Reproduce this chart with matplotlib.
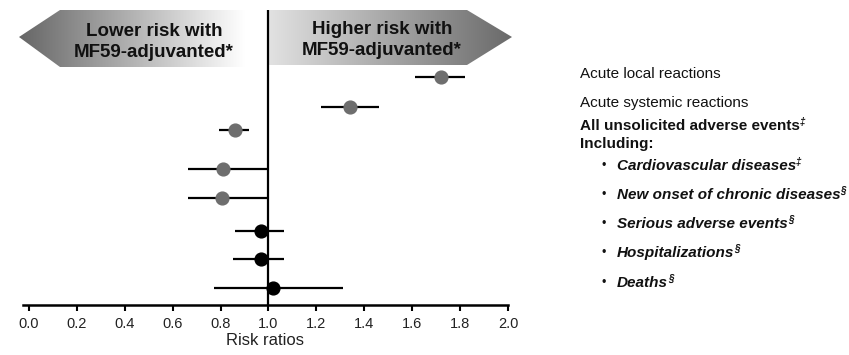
import numpy as np
import matplotlib.pyplot as plt
from matplotlib.patches import Polygon
from matplotlib.colors import LinearSegmentedColormap
import matplotlib.transforms as mtransforms

plt.rcParams['font.family'] = ['Liberation Sans', 'DejaVu Sans']

# risk ratios with 95% CI, top to bottom
rr = [1.72, 1.34, 0.86, 0.81, 0.805, 0.967, 0.967, 1.02]
ci_low = [1.61, 1.22, 0.795, 0.665, 0.665, 0.86, 0.853, 0.774]
ci_high = [1.82, 1.46, 0.918, 1.0, 1.0, 1.065, 1.065, 1.312]
point_colors = ['#6e6e6e'] * 5 + ['black'] * 3

# row layout (uneven spacing as in the original)
row_pos = [0, 1.0, 1.77, 3.07, 4.01, 5.1, 6.05, 7.01]

labels = [
    ('Acute local reactions', 'normal', 'normal', False, ''),
    ('Acute systemic reactions', 'normal', 'normal', False, ''),
    ('All unsolicited adverse events', 'bold', 'normal', False, '\u2021'),
    ('Including:', 'bold', 'normal', False, ''),
    ('Cardiovascular diseases', 'bold', 'italic', True, '\u2021'),
    ('New onset of chronic diseases', 'bold', 'italic', True, '\u00a7'),
    ('Serious adverse events', 'bold', 'italic', True, '\u00a7'),
    ('Hospitalizations', 'bold', 'italic', True, '\u00a7'),
    ('Deaths', 'bold', 'italic', True, '\u00a7'),
]
label_pos = [-0.09, 0.87, 1.63, 2.23, 2.96, 3.92, 4.88, 5.84, 6.83]

xticks = [0.0, 0.2, 0.4, 0.6, 0.8, 1.0, 1.2, 1.4, 1.6, 1.8, 2.0]

W, H = 849, 355
fig = plt.figure(figsize=(W / 100, H / 100), dpi=100)

# background layer in pixel coordinates for the arrows
bg = fig.add_axes([0, 0, 1, 1], zorder=0)
bg.axis('off')

grad = np.linspace(0, 1, 256).reshape(1, -1)

left_arrow = Polygon([(19, 37), (60, 10), (250, 10), (250, 67), (60, 67)],
                     closed=True, facecolor='none', edgecolor='none')
bg.add_patch(left_arrow)
cmap_l = LinearSegmentedColormap.from_list('l', ['#666666', '#ffffff'])
im = bg.imshow(grad, cmap=cmap_l, extent=(19, 245, 67, 10), aspect='auto')
im.set_clip_path(left_arrow)

right_arrow = Polygon([(268, 10), (467, 10), (512, 37), (467, 65), (268, 65)],
                      closed=True, facecolor='none', edgecolor='none')
bg.add_patch(right_arrow)
cmap_r = LinearSegmentedColormap.from_list('r', ['#e2e2e2', '#6a6a6a'])
im2 = bg.imshow(grad, cmap=cmap_r, extent=(268, 512, 65, 10), aspect='auto')
im2.set_clip_path(right_arrow)
bg.set_xlim(0, W)
bg.set_ylim(H, 0)

bg.text(154, 42, 'Lower risk with\nMF59-adjuvanted*', ha='center', va='center',
        fontsize=13.5, fontweight='bold', color='#111111', linespacing=1.25)
bg.text(382, 40, 'Higher risk with\nMF59-adjuvanted*', ha='center', va='center',
        fontsize=13.5, fontweight='bold', color='#111111', linespacing=1.25)

# main forest plot
ax = fig.add_axes([23 / W, 1 - 305 / H, 485 / W, 295 / H], zorder=1)
ax.patch.set_visible(False)
ax.set_xlim(-0.025, 2.0)
ax.set_ylim(7.56, -2.21)

for i in range(len(rr)):
    ax.plot([ci_low[i], ci_high[i]], [row_pos[i], row_pos[i]], color='black',
            lw=1.6, solid_capstyle='butt', zorder=2)
    ax.plot(rr[i], row_pos[i], 'o', ms=9.2, color=point_colors[i],
            mec=point_colors[i], zorder=3)

ax.axvline(1.0, color='black', lw=1.6, zorder=1)

for s in ['left', 'top', 'right']:
    ax.spines[s].set_visible(False)
ax.spines['bottom'].set_linewidth(1.8)
ax.set_yticks([])
ax.set_xticks(xticks)
ax.set_xticklabels([f'{t:.1f}' for t in xticks], fontsize=10.5, color='#222222')
ax.tick_params(axis='x', direction='out', length=4.5, width=1.5, pad=4.5)
ax.set_xlabel('Risk ratios', fontsize=12, labelpad=1, color='#222222')

trans = mtransforms.blended_transform_factory(fig.transFigure, ax.transData)
for (txt, weight, style, bullet, sup), yp in zip(labels, label_pos):
    if bullet:
        fig.text(601 / W, yp, '\u2022', transform=trans, va='center',
                 fontsize=9, color='#111111')
        x0 = 617 / W
    else:
        x0 = 580 / W
    t = fig.text(x0, yp, txt, transform=trans, va='center', fontsize=11,
                 fontweight=weight, fontstyle=style, color='#111111')
    if sup:
        ax.annotate(sup, xy=(1, 0.8), xycoords=t, xytext=(0, 0),
                    textcoords='offset points', va='center', ha='left',
                    fontsize=7, fontweight='bold', fontstyle='italic',
                    color='#111111', annotation_clip=False)

fig.savefig('out.png', dpi=100)
